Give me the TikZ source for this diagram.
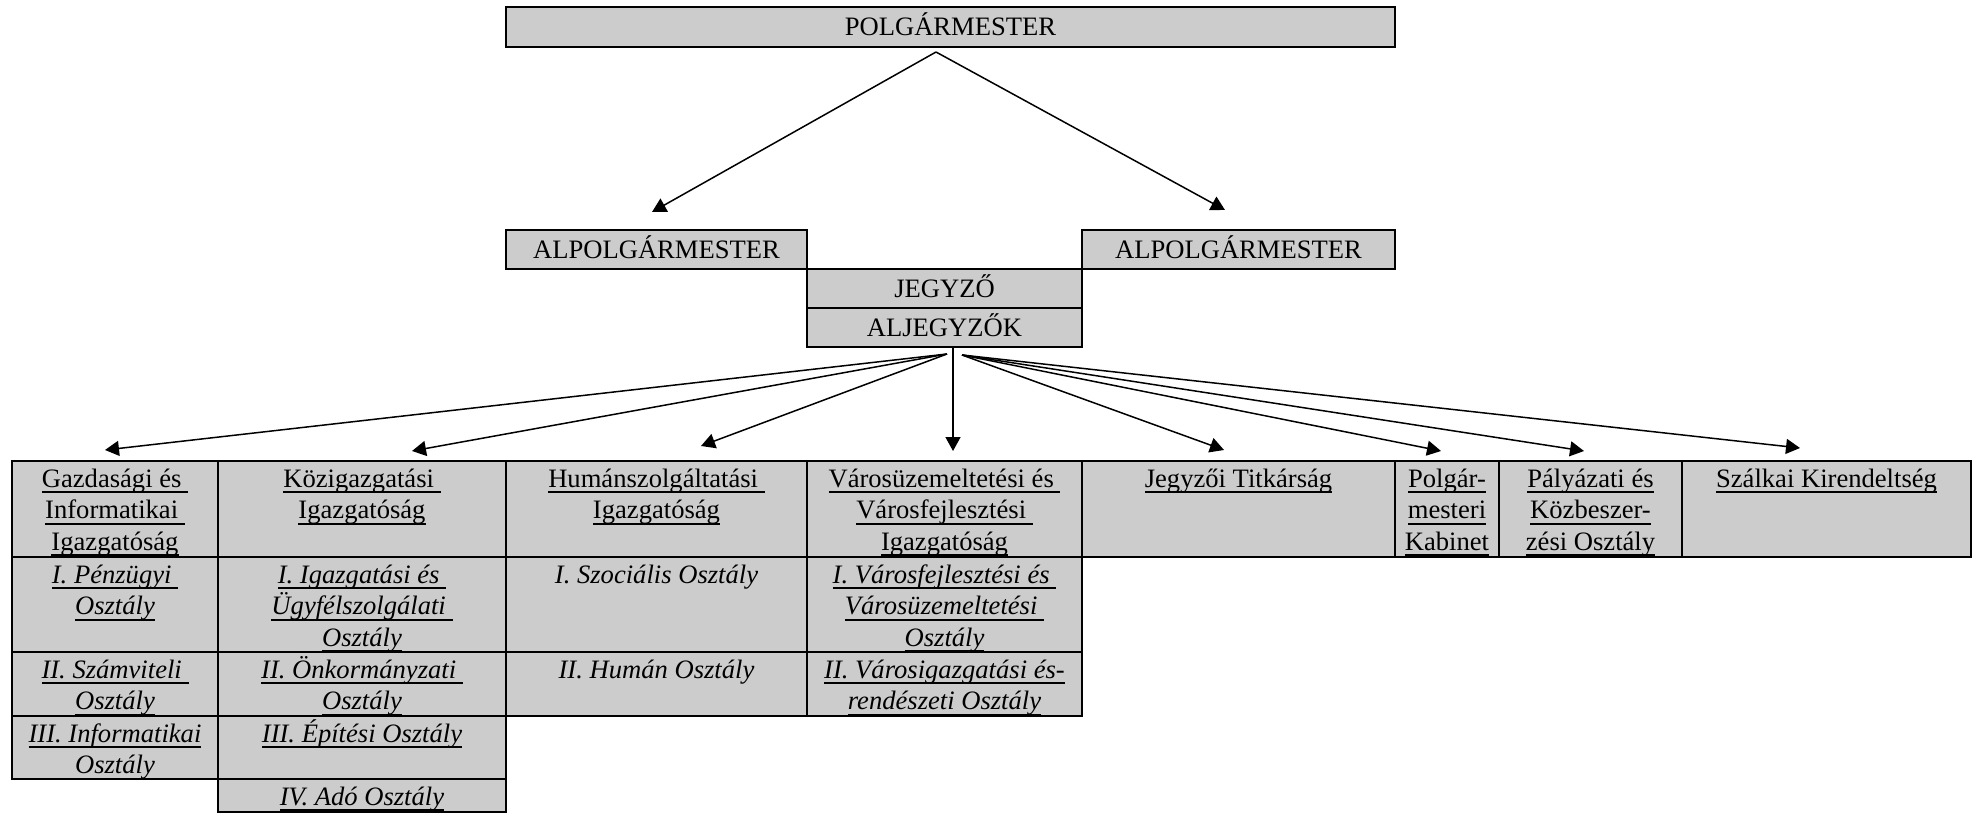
\documentclass[tikz,border=0pt]{standalone}
\usepackage{fontspec}
\setmainfont{Liberation Serif}
\usetikzlibrary{arrows.meta}
\definecolor{boxgray}{RGB}{204,204,204}
\newcommand{\ulbox}[1]{\setbox0=\hbox{#1}\rlap{\rule[-6pt]{\wd0}{1.8pt}}\box0}
\newcommand{\tstrut}{\rule{0pt}{25pt}}
\tikzset{
  box/.style={draw, line width=2pt, fill=boxgray, anchor=north west, inner sep=0pt, outer sep=0pt,
    font=\fontsize{26.6}{31.5}\selectfont, text height=18pt, text depth=0pt},
  cell/.style={draw, line width=2pt, fill=boxgray, anchor=north west, inner sep=0pt, outer sep=0pt},
  txt/.style={anchor=north, inner sep=0pt, align=center, yshift=-1pt,
    font=\fontsize{26.6}{31.5}\selectfont},
  arr/.style={-{Triangle[length=14pt,width=15pt]}, line width=1.5pt}
}

\begin{document}
\begin{tikzpicture}[x=1pt,y=-1pt]
\useasboundingbox (0,0) rectangle (1977,813);

% Mayor, deputies and notary
\node[box, minimum width=889pt, minimum height=40pt] (polg) at (506,7) {POLGÁRMESTER};
\node[box, minimum width=301pt, minimum height=39pt] (alpL) at (506,230) {ALPOLGÁRMESTER};
\node[box, minimum width=313pt, minimum height=39pt] (alpR) at (1082,230) {ALPOLGÁRMESTER};
\node[box, minimum width=275pt, minimum height=39pt] (jegy) at (807,269) {JEGYZŐ};
\node[box, minimum width=275pt, minimum height=39pt] (alj) at (807,308) {ALJEGYZŐK};

% Gazdasági column - 4 cells
\node[cell, minimum width=206pt, minimum height=96pt] (gazd) at (12,461) {};
\node[cell, minimum width=206pt, minimum height=95pt] (gazd1) at (12,557) {};
\node[cell, minimum width=206pt, minimum height=64pt] (gazd2) at (12,652) {};
\node[cell, minimum width=206pt, minimum height=63pt] (gazd3) at (12,716) {};
\node[txt] (gazdT) at (gazd.north) {\tstrut\ulbox{Gazdasági és\ }\\\ulbox{Informatikai\ }\\\ulbox{Igazgatóság}};
\node[txt] (gazd1T) at (gazd1.north) {\tstrut\ulbox{\textit{I. Pénzügyi\ }}\\\ulbox{\textit{Osztály}}};
\node[txt] (gazd2T) at (gazd2.north) {\tstrut\ulbox{\textit{II. Számviteli\ }}\\\ulbox{\textit{Osztály}}};
\node[txt] (gazd3T) at (gazd3.north) {\tstrut\ulbox{\textit{III. Informatikai}}\\\ulbox{\textit{Osztály}}};

% Közigazgatási column - 5 cells
\node[cell, minimum width=288pt, minimum height=96pt] (kozig) at (218,461) {};
\node[cell, minimum width=288pt, minimum height=95pt] (kozig1) at (218,557) {};
\node[cell, minimum width=288pt, minimum height=64pt] (kozig2) at (218,652) {};
\node[cell, minimum width=288pt, minimum height=63pt] (kozig3) at (218,716) {};
\node[cell, minimum width=288pt, minimum height=33pt] (kozig4) at (218,779) {};
\node[txt] (kozigT) at (kozig.north) {\tstrut\ulbox{Közigazgatási\ }\\\ulbox{Igazgatóság}};
\node[txt] (kozig1T) at (kozig1.north) {\tstrut\ulbox{\textit{I. Igazgatási és\ }}\\\ulbox{\textit{Ügyfélszolgálati\ }}\\\ulbox{\textit{Osztály}}};
\node[txt] (kozig2T) at (kozig2.north) {\tstrut\ulbox{\textit{II. Önkormányzati\ }}\\\ulbox{\textit{Osztály}}};
\node[txt] (kozig3T) at (kozig3.north) {\tstrut\ulbox{\textit{III. Építési Osztály}}};
\node[txt] (kozig4T) at (kozig4.north) {\tstrut\ulbox{\textit{IV. Adó Osztály}}};

% Humán column - 3 cells
\node[cell, minimum width=301pt, minimum height=96pt] (human) at (506,461) {};
\node[cell, minimum width=301pt, minimum height=95pt] (human1) at (506,557) {};
\node[cell, minimum width=301pt, minimum height=64pt] (human2) at (506,652) {};
\node[txt] (humanT) at (human.north) {\tstrut\ulbox{Humánszolgáltatási\ }\\\ulbox{Igazgatóság}};
\node[txt] (human1T) at (human1.north) {\tstrut\textit{I. Szociális Osztály}};
\node[txt] (human2T) at (human2.north) {\tstrut\textit{II. Humán Osztály}};

% Városüzemeltetési column - 3 cells
\node[cell, minimum width=275pt, minimum height=96pt] (varos) at (807,461) {};
\node[cell, minimum width=275pt, minimum height=95pt] (varos1) at (807,557) {};
\node[cell, minimum width=275pt, minimum height=64pt] (varos2) at (807,652) {};
\node[txt] (varosT) at (varos.north) {\tstrut\ulbox{Városüzemeltetési és\ }\\\ulbox{Városfejlesztési\ }\\\ulbox{Igazgatóság}};
\node[txt] (varos1T) at (varos1.north) {\tstrut\ulbox{\textit{I. Városfejlesztési és\ }}\\\ulbox{\textit{Városüzemeltetési\ }}\\\ulbox{\textit{Osztály}}};
\node[txt] (varos2T) at (varos2.north) {\tstrut\ulbox{\textit{II. Városigazgatási és-}}\\\ulbox{\textit{rendészeti Osztály}}};

% Single cells on the right
\node[cell, minimum width=313pt, minimum height=96pt] (jegyt) at (1082,461) {};
\node[cell, minimum width=104pt, minimum height=96pt] (kab) at (1395,461) {};
\node[cell, minimum width=183pt, minimum height=96pt] (paly) at (1499,461) {};
\node[cell, minimum width=289pt, minimum height=96pt] (szalk) at (1682,461) {};
\node[txt] (jegytT) at (jegyt.north) {\tstrut\ulbox{Jegyzői Titkárság}};
\node[txt] (kabT) at (kab.north) {\tstrut\ulbox{Polgár-}\\\ulbox{mesteri}\\\ulbox{Kabinet}};
\node[txt] (palyT) at (paly.north) {\tstrut\ulbox{Pályázati és}\\\ulbox{Közbeszer-}\\\ulbox{zési Osztály}};
\node[txt] (szalkT) at (szalk.north) {\tstrut\ulbox{Szálkai Kirendeltség}};

% Arrows from the mayor
\draw[arr] ([xshift=-14.5pt,yshift=-5pt]polg.south) -- ([xshift=-4.5pt,yshift=18pt]alpL.north);
\draw[arr] ([xshift=-14.5pt,yshift=-5pt]polg.south) -- ([xshift=-13.5pt,yshift=20pt]alpR.north);

% Arrows from the deputy notaries
\draw[arr] ([xshift=2.5pt,yshift=-7pt]alj.south) -- ([xshift=-10pt,yshift=11pt]gazd.north);
\draw[arr] ([xshift=2.5pt,yshift=-7pt]alj.south) -- ([xshift=50pt,yshift=10pt]kozig.north);
\draw[arr] ([xshift=2.5pt,yshift=-7pt]alj.south) -- ([xshift=44.5pt,yshift=15pt]human.north);
\draw[arr] ([xshift=8.5pt]alj.south) -- ([xshift=8.5pt,yshift=10pt]varos.north);
\draw[arr] ([xshift=17.5pt,yshift=-8pt]alj.south) -- ([xshift=-14.5pt,yshift=11pt]jegyt.north);
\draw[arr] ([xshift=17.5pt,yshift=-8pt]alj.south) -- ([xshift=-6pt,yshift=10pt]kab.north);
\draw[arr] ([xshift=17.5pt,yshift=-8pt]alj.south) -- ([xshift=-6.5pt,yshift=10pt]paly.north);
\draw[arr] ([xshift=17.5pt,yshift=-8pt]alj.south) -- ([xshift=-26.5pt,yshift=13pt]szalk.north);

\end{tikzpicture}
\end{document}
